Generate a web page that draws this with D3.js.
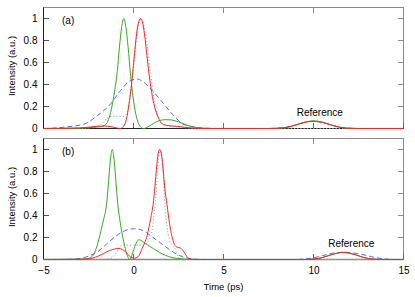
<!DOCTYPE html>
<html><head><meta charset="utf-8">
<script src="https://cdn.jsdelivr.net/npm/d3@7"></script>
<style>
html,body{margin:0;padding:0;background:#fff;}
svg{display:block;font-family:"Liberation Sans",Arial,Helvetica,sans-serif;}
</style></head>
<body>
<svg id="chart" width="415" height="297"></svg>
<script>
// ---- data (time in ps, intensity in a.u.) ----
const xTicks = [-5, 0, 5, 10, 15];
const yTicks = [0, 0.2, 0.4, 0.6, 0.8, 1];
const yTickLabels = ["0", "0.2", "0.4", "0.6", "0.8", "1"];
const panelLabels = ["(a)", "(b)"];

// Panel (a)
const aGreen = [[-5,0],[-3,0.003],[-2.5,0.008],[-2,0.014],[-1.7,0.022],[-1.5,0.045],[-1.35,0.1],[-1.2,0.2],[-1.05,0.34],[-0.9,0.52],[-0.78,0.74],[-0.66,0.92],[-0.54,1.0],[-0.42,0.92],[-0.3,0.74],[-0.17,0.5],[-0.02,0.28],[0.13,0.13],[0.28,0.045],[0.43,0.008],[0.57,0.0],[0.8,0.015],[1.1,0.045],[1.5,0.075],[1.8,0.08],[2.1,0.078],[2.5,0.06],[2.9,0.035],[3.3,0.015],[3.8,0.004],[4.5,0],[7.5,0],[8,0.002],[8.5,0.01],[9,0.032],[9.5,0.058],[10,0.07],[10.5,0.058],[11,0.032],[11.5,0.01],[12,0.002],[12.5,0],[15,0]];
const aRed = [[-5,0],[-3,0.005],[-2.5,0.012],[-2,0.02],[-1.6,0.022],[-1.3,0.018],[-1.0,0.008],[-0.75,0.0],[-0.55,0.02],[-0.4,0.08],[-0.25,0.22],[-0.1,0.42],[0.04,0.65],[0.17,0.86],[0.29,0.97],[0.39,1.0],[0.49,0.97],[0.61,0.86],[0.75,0.66],[0.9,0.45],[1.05,0.29],[1.2,0.18],[1.35,0.11],[1.5,0.06],[1.7,0.035],[2.0,0.025],[2.4,0.02],[2.8,0.012],[3.2,0.005],[3.8,0],[7.5,0],[8,0.002],[8.5,0.01],[9,0.03],[9.5,0.055],[10,0.066],[10.5,0.055],[11,0.03],[11.5,0.01],[12,0.002],[12.5,0],[15,0]];
const aBlue = [[-5,0],[-4.5,0.003],[-3.7,0.015],[-2.75,0.04],[-2.0,0.118],[-1.27,0.224],[-0.72,0.345],[-0.17,0.436],[0.2,0.45],[0.57,0.42],[1.13,0.33],[1.68,0.224],[2.23,0.118],[2.7,0.045],[3.3,0.015],[4.0,0.003],[4.8,0],[7.5,0],[8,0.003],[8.5,0.012],[9,0.032],[9.5,0.055],[10,0.065],[10.5,0.055],[11,0.032],[11.5,0.012],[12,0.003],[12.5,0],[15,0]];
const aGray = [[-5,0],[-3,0.0],[-2.2,0.01],[-1.8,0.04],[-1.5,0.09],[-1.3,0.11],[-1.0,0.11],[-0.6,0.11],[-0.4,0.13],[-0.25,0.22],[-0.1,0.4],[0.05,0.63],[0.2,0.86],[0.32,0.97],[0.4,1.0],[0.5,0.98],[0.65,0.88],[0.8,0.7],[0.95,0.5],[1.1,0.32],[1.25,0.18],[1.4,0.09],[1.6,0.04],[2.0,0.02],[2.5,0.015],[3.0,0.005],[3.5,0],[15,0]];

// Panel (b)
const bGreen = [[-5,0],[-3,0.002],[-2.6,0.004],[-2.4,0.015],[-2.2,0.05],[-2.03,0.12],[-1.87,0.22],[-1.68,0.35],[-1.5,0.5],[-1.42,0.64],[-1.34,0.8],[-1.26,0.94],[-1.18,1.0],[-1.1,0.94],[-1.02,0.8],[-0.95,0.65],[-0.87,0.5],[-0.74,0.34],[-0.6,0.21],[-0.46,0.1],[-0.32,0.025],[-0.2,0.0],[-0.07,0.05],[0.1,0.13],[0.3,0.18],[0.5,0.165],[0.8,0.13],[1.1,0.1],[1.4,0.068],[1.8,0.036],[2.2,0.016],[2.7,0.005],[3.2,0],[9.5,0],[10,0.004],[10.5,0.018],[11,0.045],[11.65,0.065],[12.3,0.045],[12.8,0.018],[13.3,0.004],[13.8,0],[15,0]];
const bRed = [[-5,0],[-3,0.002],[-2.4,0.008],[-1.83,0.04],[-1.27,0.085],[-0.81,0.1],[-0.44,0.07],[-0.15,0.02],[0.05,0.012],[0.25,0.025],[0.48,0.1],[0.76,0.22],[0.95,0.37],[1.09,0.5],[1.19,0.66],[1.29,0.85],[1.37,0.96],[1.46,1.0],[1.55,0.96],[1.63,0.85],[1.73,0.66],[1.86,0.5],[2.0,0.33],[2.14,0.21],[2.28,0.135],[2.42,0.112],[2.6,0.105],[2.8,0.07],[2.97,0.025],[3.15,0.004],[3.5,0],[9.5,0],[10,0.004],[10.5,0.018],[11,0.044],[11.65,0.064],[12.3,0.044],[12.8,0.018],[13.3,0.004],[13.8,0],[15,0]];
const bBlue = [[-5,0],[-4,0.0],[-3.2,0.005],[-2.6,0.025],[-2.0,0.07],[-1.5,0.14],[-1.0,0.21],[-0.5,0.26],[0.05,0.28],[0.5,0.265],[1.0,0.21],[1.5,0.15],[2.0,0.09],[2.5,0.04],[3.0,0.012],[3.6,0.002],[4.2,0],[9,0],[9.5,0.005],[10,0.015],[10.5,0.035],[11,0.055],[11.7,0.066],[12.4,0.055],[13,0.035],[13.5,0.015],[14,0.005],[14.5,0],[15,0]];
const bGray = [[-5,0],[-2,0],[-1.3,0.01],[-1.0,0.05],[-0.8,0.11],[-0.6,0.13],[0,0.13],[0.5,0.13],[0.8,0.16],[0.98,0.22],[1.1,0.35],[1.22,0.52],[1.33,0.8],[1.46,1.0],[1.57,0.95],[1.65,0.78],[1.74,0.5],[1.86,0.3],[2.0,0.18],[2.14,0.13],[2.3,0.1],[2.45,0.03],[2.6,0],[15,0]];

const panels = [
  {label: panelLabels[0], series: [aGray, aBlue, aGreen, aRed], ref: [10.35, 0.066]},
  {label: panelLabels[1], series: [bGray, bBlue, bGreen, bRed], ref: [12.1, 0.066]}
];

// ---- styles ----
const styles = [
  {stroke: "#a0a0a0", dash: "1.2,2", width: 1},
  {stroke: "#4a6cff", dash: "5,3", width: 1},
  {stroke: "#33aa22", dash: null, width: 1},
  {stroke: "#ff2222", dash: null, width: 1}
];

const svg = d3.select("#chart");
const left = 43.5, right = 403.5;
const frames = [{top: 7.5, bottom: 128.5}, {top: 138.5, bottom: 259.5}];

const x = d3.scaleLinear().domain([-5, 15]).range([left, right]);

panels.forEach((p, i) => {
  const f = frames[i];
  const y = d3.scaleLinear().domain([0, 1.1]).range([f.bottom, f.top]);
  const g = svg.append("g");

  const cid = "clip" + i;
  svg.append("clipPath").attr("id", cid).append("rect")
    .attr("x", left).attr("y", f.top).attr("width", right - left).attr("height", f.bottom - f.top + 1);

  g.append("rect").attr("x", left).attr("y", f.top).attr("width", right - left).attr("height", f.bottom - f.top)
    .attr("fill", "none").attr("stroke", "#8a8a8a").attr("stroke-width", 1);

  const tk = 5.5;
  xTicks.forEach(t => {
    g.append("line").attr("x1", x(t)).attr("x2", x(t)).attr("y1", f.top).attr("y2", f.top + tk)
      .attr("stroke", "#8a8a8a");
    g.append("line").attr("x1", x(t)).attr("x2", x(t)).attr("y1", f.bottom).attr("y2", f.bottom - tk)
      .attr("stroke", "#666");
  });
  yTicks.forEach(v => {
    g.append("line").attr("x1", left).attr("x2", left + tk).attr("y1", y(v)).attr("y2", y(v))
      .attr("stroke", "#555");
    g.append("line").attr("x1", right).attr("x2", right - tk).attr("y1", y(v)).attr("y2", y(v))
      .attr("stroke", "#8a8a8a");
  });

  g.append("line").attr("x1", left).attr("x2", left).attr("y1", f.top).attr("y2", f.bottom).attr("stroke", "#222");
  g.append("line").attr("x1", left).attr("x2", right).attr("y1", f.bottom).attr("y2", f.bottom).attr("stroke", i === 0 ? "#222" : "#888").attr("stroke-width", i === 0 ? 1 : 1.5);

  const ay = d3.axisLeft(y).tickValues(yTicks).tickSize(0).tickPadding(6)
    .tickFormat((d, k) => yTickLabels[k]);
  const axG = g.append("g").attr("transform", `translate(${left},0)`).call(ay);
  axG.select(".domain").remove();
  axG.selectAll("text").attr("font-size", 10).attr("fill", "#000")
    .attr("font-family", "'Liberation Sans',Arial,sans-serif");

  const line = d3.line().x(d => x(d[0])).y(d => y(d[1])).curve(d3.curveMonotoneX);
  const cg = g.append("g").attr("clip-path", `url(#${cid})`);
  p.series.forEach((s, k) => {
    const st = styles[k];
    cg.append("path").datum(s).attr("d", line).attr("fill", "none")
      .attr("stroke", st.stroke).attr("stroke-width", st.width)
      .attr("stroke-dasharray", st.dash);
  });

  g.append("text").attr("x", 62).attr("y", f.top + 16).attr("font-size", 10).text(p.label);
  g.append("text").attr("x", x(p.ref[0])).attr("y", y(p.ref[1]) - 5.5).attr("font-size", 10)
    .attr("text-anchor", "middle").text("Reference");

  g.append("text").attr("transform", `translate(15,${(f.top + f.bottom) / 2 - 2}) rotate(-90)`)
    .attr("text-anchor", "middle").attr("font-size", 9.5).text("Intensity (a.u.)");
});

const ax = d3.axisBottom(x).tickValues(xTicks).tickSize(0).tickPadding(7)
  .tickFormat(d => d < 0 ? "\u2212" + Math.abs(d) : String(d));
const axX = svg.append("g").attr("transform", `translate(0,${frames[1].bottom})`).call(ax);
axX.select(".domain").remove();
axX.selectAll("text").attr("font-size", 10).attr("fill", "#000")
  .attr("font-family", "'Liberation Sans',Arial,sans-serif");

svg.append("text").attr("x", x(5)).attr("y", 290).attr("text-anchor", "middle")
  .attr("font-size", 9.5).text("Time (ps)");
</script>
</body></html>
